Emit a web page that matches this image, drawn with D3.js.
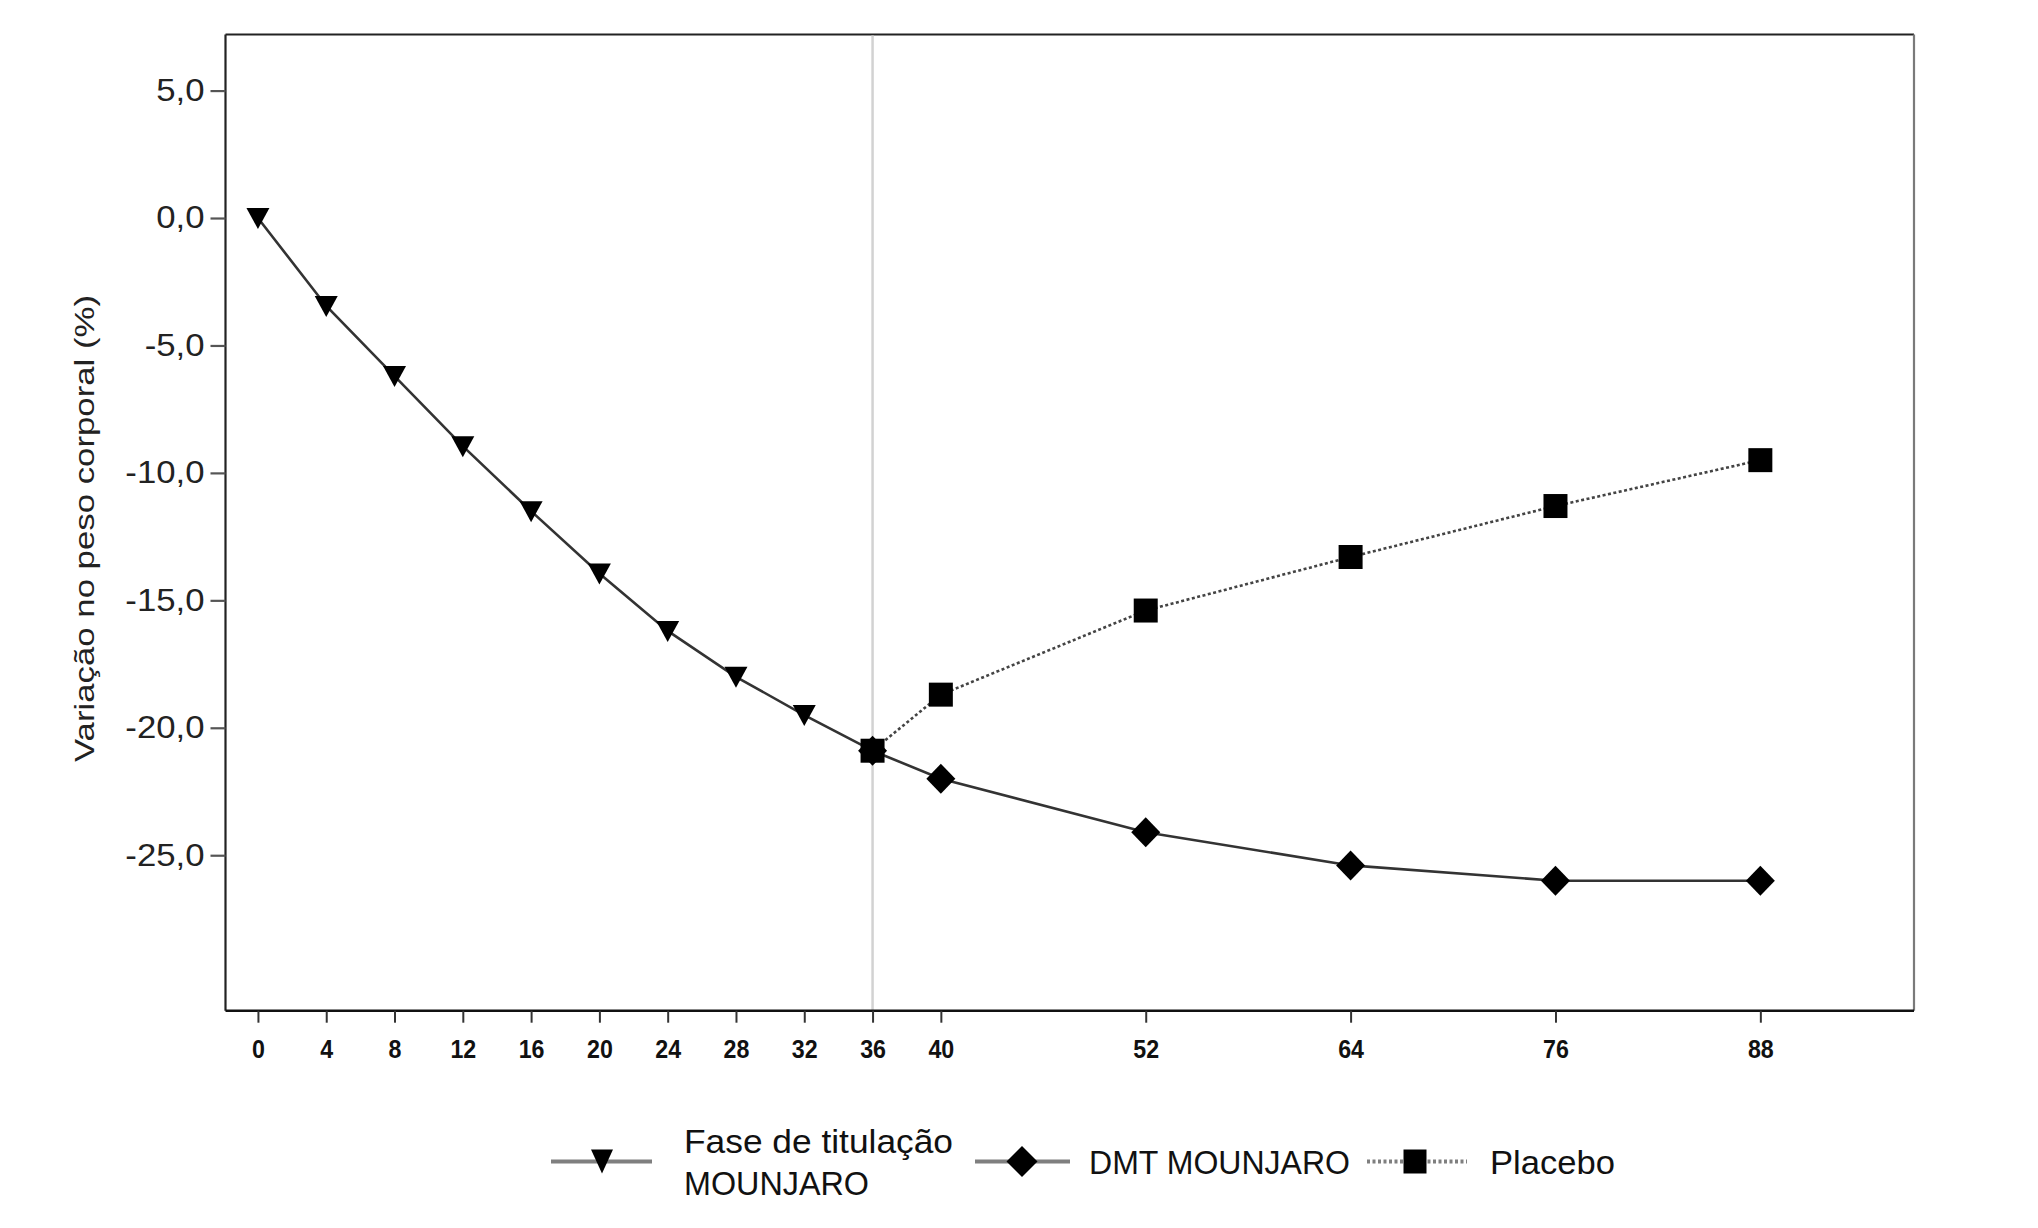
<!DOCTYPE html>
<html>
<head>
<meta charset="utf-8">
<script src="https://cdn.jsdelivr.net/npm/d3@7"></script>
<style>
  html, body { margin: 0; padding: 0; background: #fff; }
  svg { display: block; }
  text { font-family: "Liberation Sans", Arial, sans-serif; }
</style>
</head>
<body>
<svg id="chart" width="2038" height="1228"></svg>
<script>
// ---- data ----
const weeksTitration = [0, 4, 8, 12, 16, 20, 24, 28, 32, 36];
const titration = [0, -3.45, -6.2, -8.95, -11.5, -13.95, -16.2, -18.0, -19.5, -20.9];
const weeksDMT = [36, 40, 52, 64, 76, 88];
const dmt = [-20.9, -22.0, -24.1, -25.4, -26.0, -26.0];
const weeksPlacebo = [36, 40, 52, 64, 76, 88];
const placebo = [-20.9, -18.7, -15.4, -13.3, -11.3, -9.5];
const xTicks = [0, 4, 8, 12, 16, 20, 24, 28, 32, 36, 40, 52, 64, 76, 88];
const yTicks = [5, 0, -5, -10, -15, -20, -25];
const yTitle = "Variação no peso corporal (%)";
const legendLabels = [["Fase de titulação", "MOUNJARO"], ["DMT MOUNJARO"], ["Placebo"]];
const switchWeek = 36;

// ---- layout ----
const svg = d3.select("#chart");
const L = 225.5, R = 1914, T = 34.5, B = 1010.7;
const x = d3.scaleLinear().domain([-1.9, 97]).range([L, R]);
const y = d3.scaleLinear().domain([-31.1, 7.2]).range([B, T]);

const toPts = (ws, vs) => ws.map((w, i) => [w, vs[i]]);
const sTit = toPts(weeksTitration, titration);
const sDmt = toPts(weeksDMT, dmt);
const sPla = toPts(weeksPlacebo, placebo);

// frame: top and right
svg.append("line").attr("x1", L).attr("x2", R).attr("y1", T).attr("y2", T)
  .attr("stroke", "#222").attr("stroke-width", 2.2);
svg.append("line").attr("x1", R).attr("x2", R).attr("y1", T).attr("y2", B)
  .attr("stroke", "#7a7a7a").attr("stroke-width", 2.2);

// reference line at switch week
svg.append("line").attr("x1", x(switchWeek)).attr("x2", x(switchWeek))
  .attr("y1", T + 1).attr("y2", B)
  .attr("stroke", "#d2d2d2").attr("stroke-width", 2.5);

// y axis
const yAxis = svg.append("g").attr("transform", `translate(${L},0)`)
  .call(d3.axisLeft(y).tickValues(yTicks).tickSize(15).tickSizeOuter(0).tickPadding(6)
    .tickFormat(d => d.toFixed(1).replace(".", ",")));
yAxis.select(".domain").attr("stroke", "#222").attr("stroke-width", 2.2)
  .attr("d", `M0,${T}V${B}`);
yAxis.selectAll(".tick line").attr("stroke", "#555").attr("stroke-width", 2.2);
yAxis.selectAll(".tick text").attr("font-size", 31).attr("fill", "#222")
  .attr("font-family", "'Liberation Sans', Arial, sans-serif")
  .each(function () {
    const n = this.getComputedTextLength();
    d3.select(this).attr("textLength", n * 1.12).attr("lengthAdjust", "spacingAndGlyphs");
  });

// x axis
const xAxis = svg.append("g").attr("transform", `translate(0,${B})`)
  .call(d3.axisBottom(x).tickValues(xTicks).tickSize(12).tickSizeOuter(0).tickPadding(17));
xAxis.select(".domain").attr("stroke", "#111").attr("stroke-width", 2.6)
  .attr("d", `M${L},0H${R}`);
xAxis.selectAll(".tick line").attr("stroke", "#333").attr("stroke-width", 2);
xAxis.selectAll(".tick text").attr("font-size", 25.5).attr("font-weight", "bold").attr("fill", "#111")
  .attr("font-family", "'Liberation Sans', Arial, sans-serif")
  .each(function () {
    const n = this.getComputedTextLength();
    d3.select(this).attr("textLength", n * 0.91).attr("lengthAdjust", "spacingAndGlyphs");
  });

// y title
svg.append("text")
  .attr("transform", `translate(93.5,528.5) rotate(-90)`)
  .attr("text-anchor", "middle")
  .attr("font-size", 27).attr("fill", "#222")
  .attr("textLength", 467).attr("lengthAdjust", "spacingAndGlyphs")
  .text(yTitle);

// lines
const line = d3.line().x(d => x(d[0])).y(d => y(d[1]));
svg.append("path").datum(sTit).attr("d", line).attr("fill", "none")
  .attr("stroke", "#333").attr("stroke-width", 2.6);
svg.append("path").datum(sDmt).attr("d", line).attr("fill", "none")
  .attr("stroke", "#333").attr("stroke-width", 2.6);
svg.append("path").datum(sPla).attr("d", line).attr("fill", "none")
  .attr("stroke", "#444").attr("stroke-width", 2.6).attr("stroke-dasharray", "3,2.5");

// marker shapes
const triPath = "M-11.5,-10L11.5,-10L0,11Z";
const diaPath = "M0,-15L14.5,0L0,15L-14.5,0Z";
const sqPath = "M-12,-12H12V12H-12Z";

svg.append("g").selectAll("path").data(sPla).join("path")
  .attr("d", sqPath).attr("fill", "#000")
  .attr("transform", d => `translate(${x(d[0])},${y(d[1])})`);
svg.append("g").selectAll("path").data(sDmt).join("path")
  .attr("d", diaPath).attr("fill", "#000")
  .attr("transform", d => `translate(${x(d[0])},${y(d[1])})`);
svg.append("g").selectAll("path").data(sTit).join("path")
  .attr("d", triPath).attr("fill", "#000")
  .attr("transform", d => `translate(${x(d[0])},${y(d[1])})`);

// legend
const legY = 1161.5;
const legend = [
  { x1: 551, x2: 652, mx: 602, shape: "M-11,-12L11,-12L0,12Z", dash: null, tx: 684, lines: legendLabels[0], widths: [269, 185], base: [1153, 1195] },
  { x1: 975, x2: 1070, mx: 1022, shape: "M0,-15.5L15.5,0L0,15.5L-15.5,0Z", dash: null, tx: 1089, lines: legendLabels[1], widths: [261], base: [1174] },
  { x1: 1367, x2: 1467, mx: 1415, shape: "M-11.5,-12H11.5V12H-11.5Z", dash: "3,2.5", tx: 1490, lines: legendLabels[2], widths: [125], base: [1174] }
];
const lg = svg.append("g").selectAll("g").data(legend).join("g");
lg.append("line").attr("x1", d => d.x1).attr("x2", d => d.x2).attr("y1", legY).attr("y2", legY)
  .attr("stroke", "#7f7f7f").attr("stroke-width", 4.2)
  .attr("stroke-dasharray", d => d.dash);
lg.append("path").attr("d", d => d.shape).attr("fill", "#000")
  .attr("transform", d => `translate(${d.mx},${legY})`);
lg.each(function (d) {
  const g = d3.select(this);
  d.lines.forEach((t, i) => {
    g.append("text").attr("x", d.tx).attr("y", d.base[i])
      .attr("font-size", 33).attr("fill", "#111")
      .attr("textLength", d.widths[i]).attr("lengthAdjust", "spacingAndGlyphs")
      .text(t);
  });
});
</script>
</body>
</html>
